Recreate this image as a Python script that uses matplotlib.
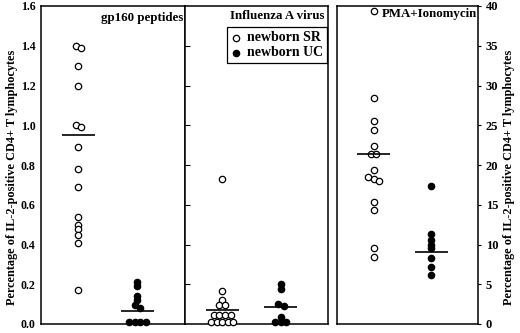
import numpy as np
import matplotlib.pyplot as plt

# values (% IL-2-positive CD4+ T cells)
gp160_sr = [1.40, 1.39, 1.30, 1.20, 1.00, 0.99, 0.89, 0.78, 0.69, 0.54, 0.50, 0.48, 0.45, 0.41, 0.17]
gp160_uc = [0.21, 0.19, 0.14, 0.12, 0.095, 0.08, 0.012, 0.012, 0.012, 0.012]
flu_sr = [0.73, 0.167, 0.12, 0.095, 0.095, 0.045, 0.045, 0.045, 0.045,
          0.012, 0.012, 0.012, 0.012, 0.012]
flu_uc = [0.20, 0.175, 0.10, 0.09, 0.035, 0.012, 0.012, 0.012]
pma_sr = [39.4, 28.4, 25.5, 24.4, 22.4, 21.4, 21.4, 19.4, 18.5, 18.3, 18.0, 15.4, 14.4, 9.5, 8.4]
pma_uc = [17.3, 11.3, 10.6, 10.0, 9.5, 8.3, 7.2, 6.2]

sr_means = [0.95, 0.07, 21.35]
uc_means = [0.065, 0.084, 9.0]
titles = ["gp160 peptides", "Influenza A virus", "PMA+Ionomycin"]
ylabel = "Percentage of IL-2-positive CD4+ T lymphocytes"

plt.rcParams["font.family"] = ["Liberation Serif", "DejaVu Serif"]
plt.rcParams["font.weight"] = "bold"

W, H = 520, 333
DOT_PX = 5.6
XLIM = (-0.634, 1.805)


def spread(values, px_y, px_x):
    # points closer than ~3 px vertically form a row and get spread sideways
    vals = np.asarray(values, float)
    order = np.argsort(-vals, kind="stable")
    offsets = np.zeros(len(vals))
    rows, cur = [], [order[0]]
    for i in order[1:]:
        if (vals[cur[-1]] - vals[i]) * px_y < 3:
            cur.append(i)
        else:
            rows.append(cur)
            cur = [i]
    rows.append(cur)
    for row in rows:
        n = len(row)
        for k, i in enumerate(row):
            offsets[i] = (k - (n - 1) / 2) * DOT_PX / px_x
    return offsets


fig = plt.figure(figsize=(W / 100, H / 100), dpi=100)
panels_px = [(41, 185), (185, 328), (337, 478)]
top, bottom = 6, 324
data = [(gp160_sr, gp160_uc), (flu_sr, flu_uc), (pma_sr, pma_uc)]
ylims = [(0, 1.6), (0, 1.6), (0, 40)]
title_pos = [(0.986, 0.962), (0.979, 0.968), (0.993, 0.976)]

axes = []
for i, ((x0, x1), (sr, uc), ylim) in enumerate(zip(panels_px, data, ylims)):
    ax = fig.add_axes([x0 / W, 1 - bottom / H, (x1 - x0) / W, (bottom - top) / H])
    ax.set_xlim(*XLIM)
    ax.set_ylim(*ylim)
    px_x = (x1 - x0) / (XLIM[1] - XLIM[0])
    px_y = (bottom - top) / (ylim[1] - ylim[0])

    for pos, vals, face, mean in [(0, sr, "white", sr_means[i]), (1, uc, "black", uc_means[i])]:
        xs = pos + spread(vals, px_y, px_x)
        ax.scatter(xs, vals, s=21, facecolor=face, edgecolor="black",
                   linewidth=0.9, zorder=3, clip_on=False)
        ax.hlines(mean, pos - 0.28, pos + 0.28, color="black", lw=1.2, zorder=4)

    for sp in ax.spines.values():
        sp.set_linewidth(1.1)
    ax.set_xticks([])
    tx, ty = title_pos[i]
    ax.text(tx, ty, titles[i], transform=ax.transAxes, ha="right", va="center",
            fontsize=9.3, fontweight="bold")
    axes.append(ax)

# left panel: labels only
ax1, ax2, ax3 = axes
ax1.set_yticks(np.arange(0, 1.61, 0.2))
ax1.set_yticklabels([f"{v:.1f}" for v in np.arange(0, 1.61, 0.2)])
ax1.tick_params(axis="y", length=0, pad=4, labelsize=8.6)

ax2.set_yticks(np.arange(0.2, 1.41, 0.2))
ax2.tick_params(axis="y", direction="in", length=3.5, width=0.8, labelleft=False)

ax3.yaxis.tick_right()
ax3.set_yticks(np.arange(0, 41, 5))
ax3.tick_params(axis="y", direction="out", length=2.5, width=0.8, pad=3, labelsize=9)

# legend in the influenza panel
h_sr = ax2.scatter([], [], s=21, facecolor="white", edgecolor="black", linewidth=0.9)
h_uc = ax2.scatter([], [], s=21, facecolor="black", edgecolor="black", linewidth=0.9)
leg = ax2.legend([h_sr, h_uc], ["newborn SR", "newborn UC"], loc="upper right",
                 bbox_to_anchor=(0.993, 0.934), borderaxespad=0, fancybox=False,
                 edgecolor="black", framealpha=1, handletextpad=0.45,
                 handlelength=0.7, borderpad=0.3, labelspacing=0.15,
                 prop={"size": 10, "weight": "bold"})
leg.get_frame().set_linewidth(0.9)

fig.text(12 / W, 1 - 177 / H, ylabel, rotation=90, ha="center", va="center",
         fontsize=8.8, fontweight="bold")
fig.text(509 / W, 1 - 177 / H, ylabel, rotation=90, ha="center", va="center",
         fontsize=8.8, fontweight="bold")

fig.savefig("out.png", dpi=100)
